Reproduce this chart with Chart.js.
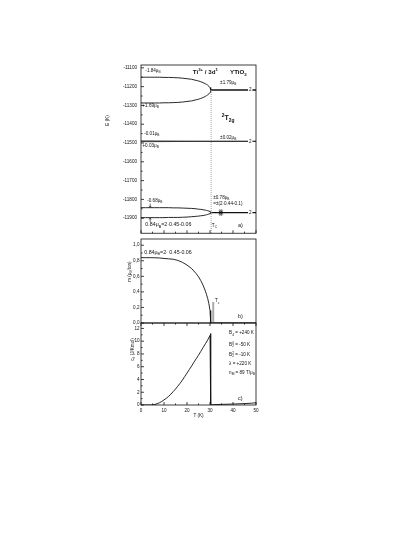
<!DOCTYPE html>
<html>
<head>
<meta charset="utf-8">
<script src="https://cdn.jsdelivr.net/npm/chart.js@4.4.1/dist/chart.umd.min.js"></script>
<style>
    html, body { margin: 0; padding: 0; background: #fff; }
    body { width: 420px; height: 543px; position: relative; overflow: hidden; }
    canvas { position: absolute; left: 0; }
</style>
</head>
<body>
<canvas id="panelA" width="420" height="240" style="top:0px"></canvas>
<canvas id="panelB" width="420" height="100" style="top:230px"></canvas>
<canvas id="panelC" width="420" height="110" style="top:315px"></canvas>
<script>
// ====== Temperature grids (K) ======
const T_ORD = [0, 2, 4, 6, 8, 10, 12, 14, 16, 18, 20, 22, 24, 25, 26, 27, 28, 28.5, 29, 29.5, 30, 30.2, 30.4];
const T_PARA = [30.4, 50];
const T_FLAT = [0, 30.4, 50];

// ====== a) crystal-field levels E (K) ======
const E1_UP = [-11150, -11150, -11150, -11150, -11150, -11151, -11151, -11152, -11153, -11155, -11158, -11161, -11167, -11170, -11174, -11179, -11185, -11188, -11192, -11198, -11205, -11209, -11218];
const E1_DN = [-11287, -11287, -11287, -11287, -11287, -11286, -11286, -11285, -11284, -11282, -11279, -11276, -11270, -11267, -11263, -11258, -11252, -11248, -11244, -11239, -11231, -11227, -11218];
const E1_PARA = [-11218, -11218];
const E2_UP = [-11489, -11491, -11491];
const E2_DN = [-11493, -11491, -11491];
const E3_UP = [-11844, -11844, -11844, -11844, -11844, -11844, -11844, -11845, -11845, -11846, -11847, -11848, -11850, -11852, -11853, -11855, -11857, -11859, -11860, -11862, -11865, -11867, -11870];
const E3_DN = [-11897, -11897, -11897, -11897, -11897, -11897, -11896, -11896, -11896, -11895, -11894, -11892, -11890, -11889, -11887, -11886, -11883, -11882, -11880, -11878, -11875, -11873, -11870];
const E3_PARA = [-11870, -11870];
const TC_LINE_T = [30.5, 30.5];
const TC_LINE_E = [-11218, -11980];

// ====== b) ordered moment m (muB/ion) ======
const M_ORD = [0.84, 0.84, 0.84, 0.839, 0.836, 0.83, 0.825, 0.82, 0.805, 0.78, 0.745, 0.70, 0.635, 0.595, 0.545, 0.485, 0.41, 0.365, 0.315, 0.25, 0.16, 0.11, 0];
const M_PARA = [0, 0];
const TC_BAR_T = [31.4, 31.4];
const TC_BAR_M = [0, 0.27];

// ====== c) specific heat (J/Kmol) ======
const T_HEAT = [0, 4, 5, 6, 7, 8, 9, 10, 11, 12, 13, 14, 15, 16, 17, 18, 19, 20, 21, 22, 23, 24, 25, 26, 27, 28, 29, 30, 30.3, 30.3, 31, 35, 40, 45, 48, 50];
const C_HEAT = [0, 0, 0.02, 0.08, 0.2, 0.35, 0.55, 0.8, 1.05, 1.35, 1.7, 2.1, 2.5, 2.95, 3.4, 3.9, 4.45, 5.0, 5.55, 6.1, 6.7, 7.25, 7.8, 8.4, 9.0, 9.6, 10.2, 10.9, 11.2, 0, 0.05, 0.1, 0.15, 0.22, 0.28, 0.35];

// ====== Tick values ======
const T_TICKS = [0, 10, 20, 30, 40, 50];
const E_TICKS = [-11900, -11800, -11700, -11600, -11500, -11400, -11300, -11200, -11100];
const M_TICKS = [0, 0.2, 0.4, 0.6, 0.8, 1.0];
const C_TICKS = [0, 2, 4, 6, 8, 10, 12];

const FONT = '"Liberation Sans", Arial, sans-serif';
const pts = (xs, ys) => xs.map((x, i) => ({x, y: ys[i]}));

// ---- draw text with _{sub} and ^{sup} markup ----
function drawRich(ctx, markup, x, y, size, bold, align) {
    const parts = [];
    markup.replace(/([_^])\{([^}]*)\}|([^_^]+)/g, (m, mode, inner, plain) => {
        parts.push(plain !== undefined ? {s: plain, m: ''} : {s: inner, m: mode});
    });
    const font = s => `${bold ? 'bold ' : ''}${s}px ${FONT}`;
    let total = 0;
    parts.forEach((p, i) => {
        ctx.font = font(p.m ? size * 0.7 : size);
        p.w = ctx.measureText(p.s).width;
        p.stack = p.m === '^' && i > 0 && parts[i - 1].m === '_';
        total += p.stack ? Math.max(0, p.w - parts[i - 1].w) : p.w;
    });
    let cx = align === 'center' ? x - total / 2 : align === 'right' ? x - total : x;
    ctx.textBaseline = 'middle';
    ctx.textAlign = 'left';
    parts.forEach((p, i) => {
        ctx.font = font(p.m ? size * 0.7 : size);
        const dy = p.m === '_' ? size * 0.32 : p.m === '^' ? -size * 0.38 : 0;
        if (p.stack) {
            cx -= parts[i - 1].w;
        }
        ctx.fillText(p.s, cx, y + dy);
        cx += p.stack ? Math.max(p.w, parts[i - 1].w) : p.w;
    });
    return total;
}

// ---- frame, inward ticks, labels ----
const panelDecor = {
    id: 'panelDecor',
    afterDraw(chart, args, opts) {
        const {ctx, chartArea: a, scales: {x, y}} = chart;
        ctx.save();
        ctx.strokeStyle = '#111';
        ctx.lineWidth = 0.8;
        ctx.strokeRect(a.left, a.top, a.width, a.height);
        // y ticks (major + minor halfway), pointing inward
        const yv = opts.yTicks;
        ctx.beginPath();
        yv.forEach((v, i) => {
            const py = y.getPixelForValue(v);
            ctx.moveTo(a.left, py); ctx.lineTo(a.left + 3, py);
            if (i < yv.length - 1) {
                const pm = y.getPixelForValue((v + yv[i + 1]) / 2);
                ctx.moveTo(a.left, pm); ctx.lineTo(a.left + 1.6, pm);
            }
        });
        // x ticks on the bottom edge
        const dir = opts.xDir;
        T_TICKS.forEach((v, i) => {
            const px = x.getPixelForValue(v);
            ctx.moveTo(px, a.bottom); ctx.lineTo(px, a.bottom - 3 * dir);
            if (i < T_TICKS.length - 1) {
                const pm = x.getPixelForValue((v + T_TICKS[i + 1]) / 2);
                ctx.moveTo(pm, a.bottom); ctx.lineTo(pm, a.bottom - 1.6 * dir);
            }
        });
        ctx.stroke();
        // text labels
        ctx.fillStyle = '#111';
        (opts.labels || []).forEach(l => {
            const px = x.getPixelForValue(l.x), py = y.getPixelForValue(l.y);
            const size = l.size || 4.6;
            if (l.bg) {
                ctx.fillStyle = '#fff';
                ctx.fillRect(px - 2.2, py - 2.5, 4.4, 5);
                ctx.fillStyle = '#111';
            }
            drawRich(ctx, l.t, px, py, size, l.bold, l.align || 'left');
        });
        // small arrows
        ctx.strokeStyle = '#111';
        ctx.lineWidth = 0.6;
        (opts.arrows || []).forEach(r => {
            const px = x.getPixelForValue(r.x), y0 = y.getPixelForValue(r.from), y1 = y.getPixelForValue(r.to);
            const d = y1 > y0 ? 1 : -1;
            ctx.beginPath();
            ctx.moveTo(px, y0); ctx.lineTo(px, y1);
            ctx.moveTo(px - 1, y1 - 1.6 * d); ctx.lineTo(px, y1); ctx.lineTo(px + 1, y1 - 1.6 * d);
            ctx.stroke();
        });
        // rotated axis title
        if (opts.yTitle) {
            ctx.save();
            ctx.translate(a.left + opts.yTitle.dx, y.getPixelForValue(opts.yTitle.at));
            ctx.rotate(-Math.PI / 2);
            drawRich(ctx, opts.yTitle.t, 0, 0, 4.6, false, 'center');
            ctx.restore();
        }
        if (opts.xTitle) {
            drawRich(ctx, opts.xTitle, x.getPixelForValue(25), a.bottom + 11, 4.6, false, 'center');
        }
        ctx.restore();
    }
};

const line = (data, extra) => Object.assign({data, borderColor: '#111', borderWidth: 0.9, showLine: true, pointRadius: 0, fill: false, tension: 0}, extra || {});

// ---- build one stacked panel ----
function makePanel(id, datasets, y, pad, deco, showX) {
    return new Chart(document.getElementById(id), {
        type: 'scatter',
        data: {datasets},
        options: {
            responsive: false,
            animation: false,
            events: [],
            layout: {padding: pad},
            plugins: {legend: {display: false}, tooltip: {enabled: false}, panelDecor: deco},
            scales: {
                x: {
                    type: 'linear', min: 0, max: 50, display: showX,
                    afterBuildTicks: s => { s.ticks = T_TICKS.map(v => ({value: v})); },
                    afterFit: s => { s.height = showX ? 12 : 0; },
                    grid: {display: false, drawTicks: false},
                    border: {display: false},
                    ticks: {padding: 2.5, autoSkip: false, maxRotation: 0, color: '#111', font: {family: FONT, size: 4.6}, callback: v => String(v)}
                },
                y: {
                    type: 'linear', min: y.min, max: y.max,
                    afterBuildTicks: s => { s.ticks = y.ticks.map(v => ({value: v})); },
                    afterFit: s => { s.width = 141; },
                    grid: {display: false, drawTicks: false},
                    border: {display: false},
                    ticks: {padding: y.pad, autoSkip: false, color: '#111', font: {family: FONT, size: 4.6}, callback: y.fmt}
                }
            }
        },
        plugins: [panelDecor]
    });
}

// ---- a) ----
makePanel('panelA', [
    line(pts(TC_LINE_T, TC_LINE_E), {borderColor: '#9a9a9a', borderDash: [1, 1], borderWidth: 0.9}),
    line(pts(T_ORD, E1_UP)),
    line(pts(T_ORD, E1_DN)),
    line(pts(T_PARA, E1_PARA), {borderWidth: 1.3}),
    line(pts(T_FLAT, E2_UP), {borderColor: '#333', borderWidth: 1}),
    line(pts(T_FLAT, E2_DN), {borderColor: '#333', borderWidth: 1}),
    line(pts(T_ORD, E3_UP)),
    line(pts(T_ORD, E3_DN)),
    line(pts(T_PARA, E3_PARA), {borderWidth: 1.3})
], {min: -11980, max: -11085, ticks: E_TICKS, pad: 4, fmt: v => String(v)},
   {left: 0, right: 164, top: 65, bottom: 1},
   {
       yTicks: E_TICKS, xDir: 1,
       yTitle: {t: 'E (K)', dx: -33, at: -11380},
       labels: [
           {x: 1.9, y: -11115, t: '-1.84μ_{B}'},
           {x: 22.5, y: -11124, t: 'Ti^{3+} / 3d^{1}', bold: true, size: 6.2},
           {x: 38.7, y: -11124, t: 'YTiO_{3}', bold: true, size: 6.2},
           {x: 34.4, y: -11179, t: '±1.79μ_{B}'},
           {x: 0.6, y: -11303, t: '+1.69μ_{B}'},
           {x: 35.1, y: -11368, t: '^{2}T_{2g}', bold: true, size: 7},
           {x: 1.4, y: -11450, t: '-0.01μ_{B}'},
           {x: 34.4, y: -11471, t: '±0.02μ_{B}'},
           {x: 0.6, y: -11514, t: '+0.03μ_{B}'},
           {x: 2.7, y: -11806, t: '-0.68μ_{B}'},
           {x: 31.4, y: -11789, t: '±0.78μ_{B}'},
           {x: 31.4, y: -11823, t: '=±(2·0.44-0.1)'},
           {x: 1.9, y: -11935, t: '0.84μ_{B}=2·0.45-0.06', size: 5.3},
           {x: 30.8, y: -11939, t: 'T_{C}'},
           {x: 42.2, y: -11939, t: 'a)', size: 5.5},
           {x: 47.5, y: E1_PARA[1], t: '2', align: 'center', bg: true},
           {x: 47.5, y: E2_UP[2], t: '2', align: 'center', bg: true},
           {x: 47.5, y: E3_PARA[1], t: '2', align: 'center', bg: true}
       ],
       arrows: [
           {x: 4, from: -11822, to: -11843},
           {x: 4, from: -11920, to: -11898},
           {x: 34.3, from: -11852, to: -11868},
           {x: 34.3, from: -11888, to: -11872},
           {x: 35.1, from: -11852, to: -11868},
           {x: 35.1, from: -11888, to: -11872}
       ]
   }, false);

// ---- b) ----
makePanel('panelB', [
    line(pts(TC_BAR_T, TC_BAR_M), {borderColor: '#aaa', borderWidth: 2}),
    line(pts(T_ORD, M_ORD)),
    line(pts(T_PARA, M_PARA))
], {min: 0, max: 1.08, ticks: M_TICKS, pad: 1.5, fmt: v => v.toFixed(1).replace('.', ',')},
   {left: 0, right: 164, top: 9, bottom: 7},
   {
       yTicks: M_TICKS, xDir: -1,
       yTitle: {t: 'm (μ_{B}/ion)', dx: -11, at: 0.66},
       labels: [
           {x: 1.4, y: 0.91, t: '0.84μ_{B}=2· 0.45-0.06', size: 5.3},
           {x: 32.2, y: 0.28, t: 'T_{c}'},
           {x: 42.2, y: 0.085, t: 'b)', size: 5.5}
       ]
   }, false);

// ---- c) ----
makePanel('panelC', [
    line(pts(T_HEAT, C_HEAT))
], {min: 0, max: 12.85, ticks: C_TICKS, pad: 1.5, fmt: v => String(v)},
   {left: 0, right: 164, top: 8, bottom: 8},
   {
       yTicks: C_TICKS, xDir: 1,
       yTitle: {t: 'c_{d} (J/Kmol)', dx: -8.5, at: 8.7},
       xTitle: 'T (K)',
       labels: [
           {x: 38.3, y: 11.26, t: 'B_{4} = +240 K'},
           {x: 38.3, y: 9.5, t: 'B_{2}^{0} = -50 K'},
           {x: 38.3, y: 7.9, t: 'B_{2}^{2} = -10 K'},
           {x: 38.3, y: 6.5, t: 'λ = +220 K'},
           {x: 38.3, y: 5.0, t: 'n_{M} = 89 T/μ_{B}'},
           {x: 42.2, y: 1.07, t: 'c)', size: 5.5}
       ]
   }, true);
</script>
</body>
</html>
